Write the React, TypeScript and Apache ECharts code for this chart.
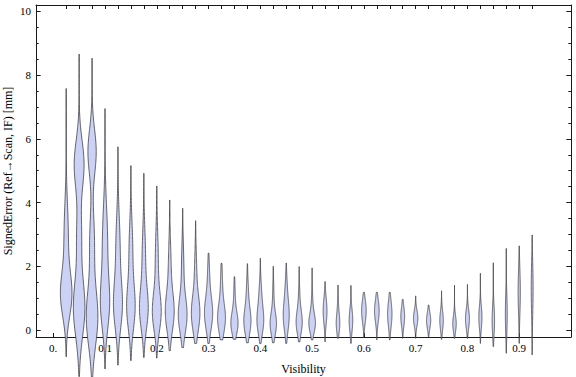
import React, { useEffect, useRef } from "react";
import * as echarts from "echarts";

// Violin positions (Visibility)
const visibility = [
  0.025, 0.05, 0.075, 0.1, 0.125, 0.15, 0.175, 0.2, 0.225, 0.25,
  0.275, 0.3, 0.325, 0.35, 0.375, 0.4, 0.425, 0.45, 0.475, 0.5,
  0.525, 0.55, 0.575, 0.6, 0.625, 0.65, 0.675, 0.7, 0.725, 0.75,
  0.775, 0.8, 0.825, 0.85, 0.875, 0.9, 0.925,
];
// Minimum / maximum signed error per bin [mm]
const minErr = [
  -0.84, -1.46, -1.73, -1.22, -1.1, -0.96, -0.86, -0.88, -0.65, -0.55,
  -0.42, -0.42, -0.31, -0.29, -0.4, -0.42, -0.4, -0.42, -0.37, -0.31,
  -0.37, -0.26, -0.42, -0.23, -0.31, -0.31, -0.26, -0.26, -0.21, -0.29,
  -0.26, -0.26, -0.42, -0.52, -0.73, -0.42, -0.78,
];
const maxErr = [
  7.58, 8.66, 8.53, 6.95, 5.75, 5.16, 4.92, 4.52, 4.08, 3.82,
  3.43, 2.41, 2.09, 1.67, 2.08, 2.25, 2.0, 2.1, 1.99, 1.95,
  1.52, 1.41, 1.4, 1.18, 1.18, 1.18, 0.96, 1.07, 0.78, 1.23,
  1.41, 1.43, 1.78, 2.11, 2.56, 2.64, 2.98,
];
// Relative peak density (violin width)
const relWidth = [
  1.0, 1.0, 1.0, 0.81, 0.78, 0.74, 0.76, 0.77, 0.77, 0.76,
  0.74, 0.71, 0.68, 0.62, 0.62, 0.59, 0.55, 0.52, 0.53, 0.57,
  0.33, 0.31, 0.31, 0.4, 0.4, 0.38, 0.33, 0.38, 0.36, 0.3,
  0.3, 0.34, 0.27, 0.21, 0.16, 0.19, 0.16,
];
// Density modes per bin: [centre, spread, weight]
const modes: number[][][] = [
  [[1.1, 0.7, 1], [3.0, 1.0, 0.38]],
  [[0.7, 0.9, 1], [5.2, 0.75, 0.85], [3.0, 0.8, 0.4]],
  [[0.4, 0.9, 1], [5.6, 0.7, 0.72], [2.8, 0.9, 0.4]],
  [[0.8, 0.8, 1], [2.8, 1.1, 0.6]],
  [[0.75, 0.75, 1], [2.6, 1.0, 0.5]],
  [[0.7, 0.7, 1], [2.5, 0.9, 0.45]],
  [[0.65, 0.65, 1], [2.3, 0.9, 0.4]],
  [[0.55, 0.6, 1], [2.2, 0.9, 0.35]],
  [[0.55, 0.6, 1], [2.0, 0.8, 0.3]],
  [[0.45, 0.55, 1], [1.9, 0.8, 0.28]],
  [[0.5, 0.55, 1], [1.8, 0.7, 0.25]],
  [[0.5, 0.5, 1], [1.6, 0.6, 0.25]],
  [[0.35, 0.45, 1], [1.4, 0.6, 0.25]],
  [[0.2, 0.35, 1], [1.0, 0.5, 0.2]],
  [[0.25, 0.4, 1], [1.1, 0.5, 0.3]],
  [[0.25, 0.4, 1], [1.0, 0.5, 0.45]],
  [[0.18, 0.35, 1], [1.0, 0.5, 0.2]],
  [[0.4, 0.45, 1], [1.2, 0.5, 0.35]],
  [[0.22, 0.35, 1], [0.9, 0.45, 0.25]],
  [[0.2, 0.3, 1], [0.8, 0.4, 0.2]],
  [[0.6, 0.4, 1]],
  [[0.2, 0.3, 1], [0.8, 0.3, 0.2]],
  [[0.3, 0.35, 1]],
  [[0.6, 0.35, 1]],
  [[0.6, 0.35, 1]],
  [[0.5, 0.4, 1]],
  [[0.42, 0.3, 1]],
  [[0.37, 0.25, 1]],
  [[0.3, 0.25, 1]],
  [[0.3, 0.3, 1]],
  [[0.2, 0.25, 1]],
  [[0.35, 0.3, 1]],
  [[0.4, 0.35, 1]],
  [[0.3, 0.45, 1]],
  [[0.5, 0.6, 1]],
  [[1.2, 0.7, 1]],
  [[1.3, 0.8, 1]],
];

const xLabelValues = [0, 0.1, 0.2, 0.3, 0.4, 0.5, 0.6, 0.7, 0.8, 0.9];
const yMajor = [0, 2, 4, 6, 8, 10];
const yMinor = [0.5, 1, 1.5, 2.5, 3, 3.5, 4.5, 5, 5.5, 6.5, 7, 7.5, 8.5, 9, 9.5];

const MAX_HALF_WIDTH = 5.8;
const FONT = "Liberation Serif";
const FRAME = "#1a1a1a";

export default function App() {
  const ref = useRef<HTMLDivElement>(null);
  useEffect(() => {
    if (!ref.current) return;
    const chart = echarts.init(ref.current, null, { renderer: "svg" });
    const Y_MIN = -0.22;
    const Y_MAX = 10.2;
    const X_MIN = -0.0333;
    const X_MAX = 1.0;
    const yBase = (pos: string, ticks: number[], len: number, labels: boolean, line: boolean) => ({
      type: "value",
      position: pos,
      offset: 0,
      min: Y_MIN,
      max: Y_MAX,
      axisLine: { show: line, onZero: false, lineStyle: { color: FRAME, width: 1 } },
      axisTick: { show: true, inside: true, length: len, customValues: ticks, lineStyle: { color: FRAME } },
      axisLabel: labels
        ? { show: true, customValues: yMajor, color: "#000", fontFamily: FONT, fontSize: 11, margin: 5 }
        : { show: false },
      splitLine: { show: false },
    });
    const option: any = {
      animation: false,
      backgroundColor: "#fff",
      grid: { left: 36, right: 5, top: 5, bottom: 40, outerBoundsMode: "none", containLabel: false },
      xAxis: [
        {
          type: "value",
          position: "bottom",
          min: X_MIN,
          max: X_MAX,
          name: "Visibility",
          nameLocation: "middle",
          nameGap: 26,
          nameMoveOverlap: false,
          nameTextStyle: { color: "#000", fontFamily: FONT, fontSize: 12 },
          axisLine: { show: true, onZero: false, lineStyle: { color: FRAME, width: 1 } },
          axisTick: { show: true, inside: true, length: 4, customValues: xLabelValues, lineStyle: { color: FRAME } },
          axisLabel: {
            show: true,
            customValues: xLabelValues,
            formatter: (v: number) => (v === 0 ? "0." : v.toFixed(1)),
            color: "#000",
            fontFamily: FONT,
            fontSize: 11,
            margin: 5,
          },
          splitLine: { show: false },
        },
        {
          type: "value",
          position: "top",
          min: X_MIN,
          max: X_MAX,
          axisLine: { show: true, onZero: false, lineStyle: { color: FRAME, width: 1 } },
          axisTick: { show: true, inside: true, length: 4, customValues: visibility, lineStyle: { color: FRAME } },
          axisLabel: { show: false },
          splitLine: { show: false },
        },
      ],
      yAxis: [
        {
          ...yBase("left", yMajor, 4.7, true, true),
          name: "SignedError (Ref\u2192Scan, IF) [mm]",
          nameLocation: "middle",
          nameGap: 22,
          nameMoveOverlap: false,
          nameTextStyle: { color: "#000", fontFamily: FONT, fontSize: 12 },
        },
        yBase("left", yMinor, 2.7, false, false),
        yBase("right", yMajor, 4.7, false, true),
        yBase("right", yMinor, 2.7, false, false),
      ],
      series: [
        {
          type: "custom",
          xAxisIndex: 0,
          yAxisIndex: 0,
          clip: false,
          data: visibility.map((v, i) => [v, i]),
          encode: { x: 0 },
          renderItem: (params: any, api: any) => {
            const x = api.value(0) as number;
            const i = api.value(1) as number;
            const lo = minErr[i];
            const hi = maxErr[i];
            const comps = modes[i];
            const N = 140;
            const ys: number[] = [];
            const ds: number[] = [];
            let dmax = 0;
            for (let k = 0; k <= N; k++) {
              const y = lo + ((hi - lo) * k) / N;
              let d = 0;
              for (const [m, s, w] of comps) d += w * Math.exp(-((y - m) * (y - m)) / (2 * s * s));
              ys.push(y);
              ds.push(d);
              if (d > dmax) dmax = d;
            }
            const cx = api.coord([x, 0])[0];
            const hwMax = MAX_HALF_WIDTH * relWidth[i];
            const right: number[][] = [];
            const left: number[][] = [];
            for (let k = 0; k <= N; k++) {
              const py = api.coord([x, ys[k]])[1];
              const w = (hwMax * ds[k]) / dmax;
              right.push([cx + w, py]);
              left.push([cx - w, py]);
            }
            const pts = right.concat(left.reverse());
            return {
              type: "polygon",
              shape: { points: pts },
              style: { fill: "#ccd2f6", stroke: "rgba(55,55,60,0.85)", lineWidth: 0.9 },
            };
          },
        },
      ],
    };
    chart.setOption(option);
    return () => chart.dispose();
  }, []);
  return (
    <div
      ref={ref}
      style={{ position: "absolute", left: 0, top: 0, width: 576, height: 377 }}
    />
  );
}
